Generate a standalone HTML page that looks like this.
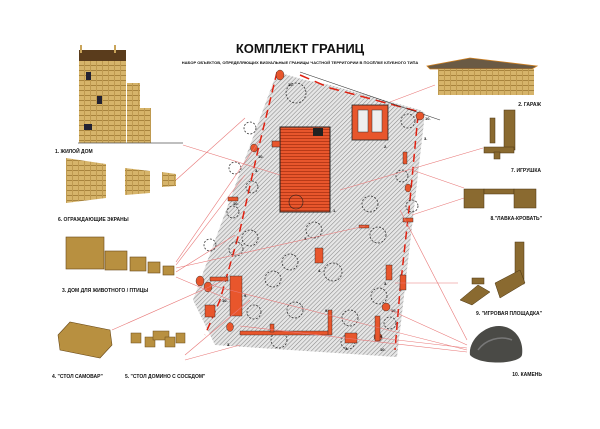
<!DOCTYPE html>
<html><head><meta charset="utf-8"><style>
body{margin:0;background:#fff;width:600px;height:424px;overflow:hidden}
text{font-family:"Liberation Sans","DejaVu Sans",sans-serif;font-weight:bold;fill:#111}
</style></head><body>
<svg width="600" height="424" viewBox="0 0 600 424">
<defs>
<pattern id="h" width="3" height="3" patternUnits="userSpaceOnUse" patternTransform="rotate(45)">
<rect width="3" height="3" fill="#e6e6e6"/><line x1="0" y1="0" x2="0" y2="3" stroke="#8a8a8a" stroke-width="1.1"/></pattern>
<pattern id="w" width="6" height="5" patternUnits="userSpaceOnUse">
<rect width="6" height="5" fill="#d6b46a"/><rect width="6" height="1" fill="#a8843e"/><rect width="1" height="5" fill="#bf9a50"/></pattern>
<pattern id="sl" width="3" height="3" patternUnits="userSpaceOnUse">
<rect width="3" height="3" fill="#e8562c"/><rect width="3" height="1" fill="#b83a18"/></pattern>
</defs>
<text x="300" y="53" font-size="13" text-anchor="middle">КОМПЛЕКТ ГРАНИЦ</text>
<text x="300" y="64" font-size="4" text-anchor="middle">НАБОР ОБЪЕКТОВ, ОПРЕДЕЛЯЮЩИХ ВИЗУАЛЬНЫЕ ГРАНИЦЫ ЧАСТНОЙ ТЕРРИТОРИИ В ПОСЁЛКЕ КЛУБНОГО ТИПА</text>
<polygon points="277,72 305,80 330,85 420,110 425,113 397,357 215,345 193,300" fill="url(#h)"/>
<polyline points="277,72 258,150 240,230 220,300 205,335" fill="none" stroke="#e02010" stroke-width="1.5" stroke-dasharray="8,5"/>
<polyline points="418,115 410,200 400,290 395,350" fill="none" stroke="#e02010" stroke-width="1.5" stroke-dasharray="8,5"/>
<polyline points="300,75 330,88 420,112" fill="none" stroke="#e02010" stroke-width="1.5" stroke-dasharray="10,6"/>
<line x1="300" y1="72" x2="440" y2="120" stroke="#333" stroke-width="0.6"/>
<g fill="none" stroke="#333" stroke-width="0.8" stroke-dasharray="2,1.5">
<circle cx="296" cy="93" r="10"/><circle cx="408" cy="121" r="7"/><circle cx="250" cy="128" r="6"/><circle cx="235" cy="168" r="6"/><circle cx="252" cy="187" r="6"/>
<circle cx="370" cy="204" r="8"/><circle cx="314" cy="230" r="8"/><circle cx="250" cy="238" r="8"/><circle cx="378" cy="235" r="8"/><circle cx="236" cy="249" r="7"/>
<circle cx="290" cy="262" r="8"/><circle cx="333" cy="272" r="9"/><circle cx="273" cy="279" r="8"/><circle cx="254" cy="312" r="7"/><circle cx="295" cy="310" r="8"/>
<circle cx="350" cy="318" r="8"/><circle cx="379" cy="296" r="8"/><circle cx="390" cy="323" r="6"/><circle cx="279" cy="340" r="8"/><circle cx="348" cy="342" r="7"/>
<circle cx="210" cy="245" r="6"/><circle cx="233" cy="212" r="6"/><circle cx="412" cy="206" r="6"/><circle cx="402" cy="176" r="6"/></g>
<rect x="280" y="127" width="50" height="85" fill="url(#sl)" stroke="#222" stroke-width="1"/>
<rect x="313" y="128" width="10" height="8" fill="#222"/>
<circle cx="296" cy="202" r="7" fill="none" stroke="#222" stroke-width="0.6"/>
<rect x="272" y="141" width="8" height="6" fill="#e8562c" stroke="#222" stroke-width="0.5"/>
<text x="333" y="212" font-size="4">1.</text>
<rect x="352" y="105" width="36" height="35" fill="#e8562c" stroke="#222" stroke-width="0.8"/>
<rect x="358" y="110" width="10" height="22" fill="#eee" stroke="#333" stroke-width="0.5"/>
<rect x="372" y="110" width="10" height="22" fill="#eee" stroke="#333" stroke-width="0.5"/>
<g fill="#e8562c" stroke="#222" stroke-width="0.4">
<ellipse cx="280" cy="75" rx="4" ry="5"/><ellipse cx="254" cy="148" rx="3.5" ry="4"/><ellipse cx="420" cy="116" rx="4" ry="4"/><ellipse cx="408" cy="188" rx="3" ry="4"/>
<ellipse cx="200" cy="281" rx="4" ry="5"/><ellipse cx="208" cy="287" rx="4" ry="5"/><ellipse cx="230" cy="327" rx="3.5" ry="4.5"/><ellipse cx="386" cy="307" rx="4" ry="4"/><ellipse cx="378" cy="337" rx="4" ry="4"/>
<rect x="359" y="225" width="10" height="3"/><rect x="315" y="248" width="8" height="15"/>
<rect x="230" y="276" width="12" height="40"/><rect x="210" y="277" width="18" height="4"/>
<rect x="240" y="331" width="90" height="4"/><rect x="328" y="310" width="4" height="25"/><rect x="345" y="333" width="12" height="10"/>
<rect x="375" y="316" width="5" height="25"/><rect x="400" y="275" width="6" height="15"/><rect x="386" y="265" width="6" height="15"/>
<rect x="228" y="197" width="10" height="4"/><rect x="403" y="152" width="4" height="12"/><rect x="403" y="218" width="10" height="4"/>
<rect x="205" y="305" width="10" height="12"/><rect x="270" y="324" width="4" height="8"/>
</g>
<g font-size="4" fill="#111">
<text x="288" y="86">10.</text><text x="258" y="158">10.</text><text x="233" y="205">10.</text><text x="222" y="302">10.</text><text x="380" y="351">10.</text><text x="391" y="312">10.</text><text x="425" y="120">10.</text>
<text x="255" y="172">3.</text><text x="304" y="240">3.</text><text x="227" y="346">3.</text><text x="345" y="350">3.</text><text x="384" y="285">3.</text><text x="424" y="140">3.</text>
<text x="318" y="272">4.</text><text x="244" y="297">9.</text><text x="325" y="312">9.</text><text x="380" y="338">9.</text><text x="384" y="148">2.</text>
</g>
<g stroke="#e87878" stroke-width="0.6">
<line x1="183" y1="145" x2="280" y2="175"/><line x1="176" y1="180" x2="245" y2="118"/><line x1="176" y1="262" x2="260" y2="140"/>
<line x1="176" y1="265" x2="245" y2="175"/><line x1="176" y1="268" x2="365" y2="226"/><line x1="176" y1="272" x2="235" y2="235"/>
<line x1="176" y1="277" x2="230" y2="300"/><line x1="112" y1="330" x2="225" y2="280"/><line x1="185" y1="355" x2="250" y2="300"/><line x1="185" y1="360" x2="240" y2="345"/>
<line x1="435" y1="85" x2="390" y2="102"/><line x1="483" y1="148" x2="340" y2="190"/><line x1="464" y1="188" x2="412" y2="170"/><line x1="464" y1="198" x2="412" y2="215"/>
<line x1="458" y1="283" x2="395" y2="283"/><line x1="467" y1="340" x2="400" y2="210"/><line x1="467" y1="345" x2="390" y2="310"/><line x1="467" y1="348" x2="380" y2="338"/><line x1="467" y1="350" x2="210" y2="285"/><line x1="467" y1="352" x2="240" y2="326"/>
</g>
<rect x="79" y="55" width="47" height="88" fill="url(#w)"/>
<rect x="79" y="50" width="47" height="11" fill="#5a3c1c"/>
<rect x="80" y="45" width="2" height="8" fill="#c9a45a"/><rect x="114" y="45" width="2" height="8" fill="#c9a45a"/>
<rect x="127" y="83" width="13" height="60" fill="url(#w)"/><rect x="140" y="108" width="11" height="35" fill="url(#w)"/>
<rect x="86" y="72" width="5" height="8" fill="#223"/><rect x="97" y="96" width="5" height="8" fill="#223"/><rect x="84" y="124" width="8" height="6" fill="#223"/>
<line x1="78" y1="143" x2="183" y2="143" stroke="#555" stroke-width="0.8"/>
<text x="55" y="153" font-size="5">1. ЖИЛОЙ ДОМ</text>
<polygon points="66,158 106,164 106,198 66,203" fill="url(#w)"/>
<polygon points="125,168 150,171 150,193 125,195" fill="url(#w)"/>
<polygon points="162,172 176,174 176,186 162,187" fill="url(#w)"/>
<text x="58" y="221" font-size="5">6. ОГРАЖДАЮЩИЕ ЭКРАНЫ</text>
<g fill="#b89040" stroke="#6a4a18" stroke-width="0.6">
<rect x="66" y="237" width="38" height="32"/><rect x="105" y="251" width="22" height="19"/><rect x="130" y="257" width="16" height="14"/><rect x="148" y="262" width="12" height="11"/><rect x="163" y="266" width="11" height="9"/></g>
<text x="62" y="292" font-size="5">3. ДОМ ДЛЯ ЖИВОТНОГО / ПТИЦЫ</text>
<polygon points="58,335 70,322 110,330 112,345 100,358 60,350" fill="#b89040" stroke="#6a4a18" stroke-width="0.6"/>
<g fill="#b89040" stroke="#6a4a18" stroke-width="0.5"><rect x="131" y="333" width="10" height="10"/><rect x="145" y="337" width="10" height="10"/><rect x="153" y="331" width="16" height="9"/><rect x="165" y="337" width="10" height="10"/><rect x="176" y="333" width="9" height="10"/></g>
<text x="52" y="378" font-size="5">4. "СТОЛ САМОВАР"</text>
<text x="125" y="378" font-size="5">5. "СТОЛ ДОМИНО С СОСЕДОМ"</text>
<polygon points="427,66 470,58 537,66 532,69 430,69" fill="#6a5a44" stroke="#d08020" stroke-width="0.8"/>
<rect x="438" y="69" width="96" height="26" fill="url(#w)"/>
<text x="541" y="106" font-size="5" text-anchor="end">2. ГАРАЖ</text>
<g fill="#8a6a30" stroke="#4a3410" stroke-width="0.5"><rect x="504" y="110" width="11" height="40"/><rect x="490" y="118" width="5" height="25"/><rect x="484" y="147" width="30" height="6"/><rect x="494" y="152" width="6" height="7"/></g>
<text x="541" y="172" font-size="5" text-anchor="end">7. ИГРУШКА</text>
<g fill="#8a6a30" stroke="#4a3410" stroke-width="0.5"><rect x="464" y="189" width="20" height="19"/><rect x="484" y="189" width="30" height="5"/><rect x="514" y="189" width="22" height="19"/></g>
<text x="542" y="220" font-size="5" text-anchor="end">8."ЛАВКА-КРОВАТЬ"</text>
<g fill="#8a6a30" stroke="#4a3410" stroke-width="0.5"><rect x="515" y="242" width="9" height="42"/><polygon points="495,283 520,270 525,283 500,298"/><polygon points="460,300 478,285 490,292 472,305"/><rect x="472" y="278" width="12" height="6"/></g>
<text x="542" y="315" font-size="5" text-anchor="end">9. "ИГРОВАЯ ПЛОЩАДКА"</text>
<path d="M470,355 C468,340 485,325 500,326 C515,327 524,340 522,355 C520,364 480,366 470,355Z" fill="#4a4a46"/>
<path d="M478,350 C485,340 500,335 512,340" stroke="#777" fill="none" stroke-width="1.5"/>
<text x="542" y="376" font-size="5" text-anchor="end">10. КАМЕНЬ</text>
</svg>
</body></html>
